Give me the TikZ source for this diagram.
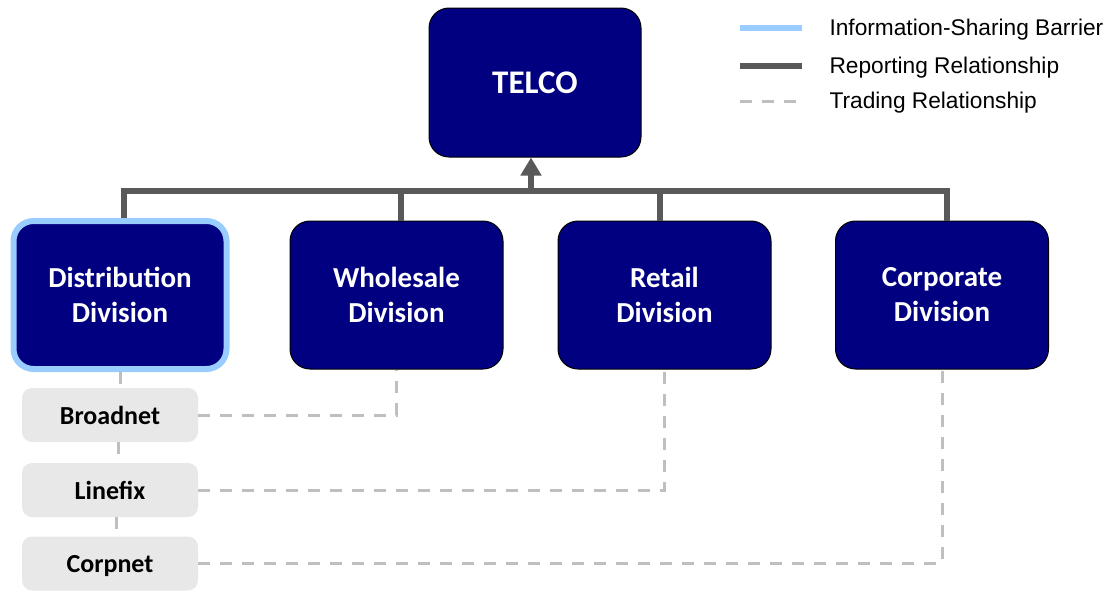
\documentclass[tikz,border=0pt]{standalone}
\usepackage{fontspec}
\setmainfont{Carlito}
\newfontfamily\legendfont{Liberation Sans}
\usetikzlibrary{arrows.meta}

\definecolor{telconavy}{HTML}{000080}
\definecolor{barrierblue}{HTML}{99CCFF}
\definecolor{reportgray}{HTML}{595959}
\definecolor{tradegray}{HTML}{BFBFBF}
\definecolor{unitgray}{HTML}{E8E8E8}

\tikzset{
  divbox/.style={draw=black, line width=1pt, fill=telconavy, rounded corners=20pt,
    text=white, font=\bfseries\fontsize{29}{35}\selectfont, align=center,
    minimum width=213pt, minimum height=148pt},
  unitbox/.style={fill=unitgray, rounded corners=10pt,
    font=\bfseries\fontsize{26}{30}\selectfont, text depth=0pt,
    minimum width=176pt, minimum height=54pt},
  report/.style={draw=reportgray, line width=6.5pt},
  trade/.style={draw=tradegray, line width=3pt, dash pattern=on 12pt off 10pt},
  barrier/.style={draw=barrierblue, line width=6pt},
  legendtext/.style={anchor=west, font=\legendfont\fontsize{22.7}{26}\selectfont}
}

\begin{document}
\begin{tikzpicture}[x=1pt, y=-1pt]

\useasboundingbox (0,0) rectangle (1108,590);

% Holding
\node[divbox, minimum width=212pt, minimum height=149pt,
  font=\bfseries\fontsize{33}{38}\selectfont] (telco) at (535,82.5) {TELCO};

% Divisions
\node[divbox, barrier, fill=telconavy] (dist) at (120,295) {Distribution\\Division};
\node[divbox] (whole) at (396.5,295) {Wholesale\\Division};
\node[divbox] (retail) at (664.5,295) {Retail\\Division};
\node[divbox] (corp) at (942,295) {Corporate\\Division};

% Reporting lines
\coordinate (bus) at ([xshift=-4pt]telco.south |- 0,191);
\draw[report] ([xshift=4pt]dist.north) |- (bus) -| ([xshift=5pt]corp.north);
\draw[report] ([xshift=4.5pt]whole.north) -- ([xshift=4.5pt]whole.north |- bus);
\draw[report] ([xshift=-4.5pt]retail.north) -- ([xshift=-4.5pt]retail.north |- bus);
\draw[draw=reportgray, line width=6pt, -{Triangle[width=20pt, length=18pt]}]
  (bus) -- ([xshift=-4pt]telco.south);

% Business units
\node[unitbox] (broad) at (110,415) {Broadnet};
\node[unitbox] (linefix) at (110,490) {Linefix};
\node[unitbox] (corpnet) at (110,563.5) {Corpnet};

% Trading lines
\draw[trade] (dist.south) -- (dist.south |- broad.north);
\draw[trade] ([xshift=-2pt]dist.south |- broad.south) -- ([xshift=-2pt]dist.south |- linefix.north);
\draw[trade] ([xshift=-4pt]dist.south |- linefix.south) -- ([xshift=-4pt]dist.south |- corpnet.north);
\draw[trade] (broad.east) -| (whole.south);
\draw[trade] (linefix.east) -| (retail.south);
\draw[trade] (corpnet.east) -| (corp.south);

% Legend
\coordinate (keybarrier) at (740,28);
\coordinate (keyreport) at (740,66);
\coordinate (keytrade) at (740,101);
\draw[barrier] (keybarrier) -- ++(62,0);
\draw[report, line width=6pt] (keyreport) -- ++(62,0);
\draw[trade] (keytrade) -- ++(62,0);
\node[legendtext] (lbarrier) at (826,30) {Information-Sharing Barrier};
\node[legendtext] (lreport) at (826,68) {Reporting Relationship};
\node[legendtext] (ltrade) at (826,103) {Trading Relationship};

\end{tikzpicture}
\end{document}
